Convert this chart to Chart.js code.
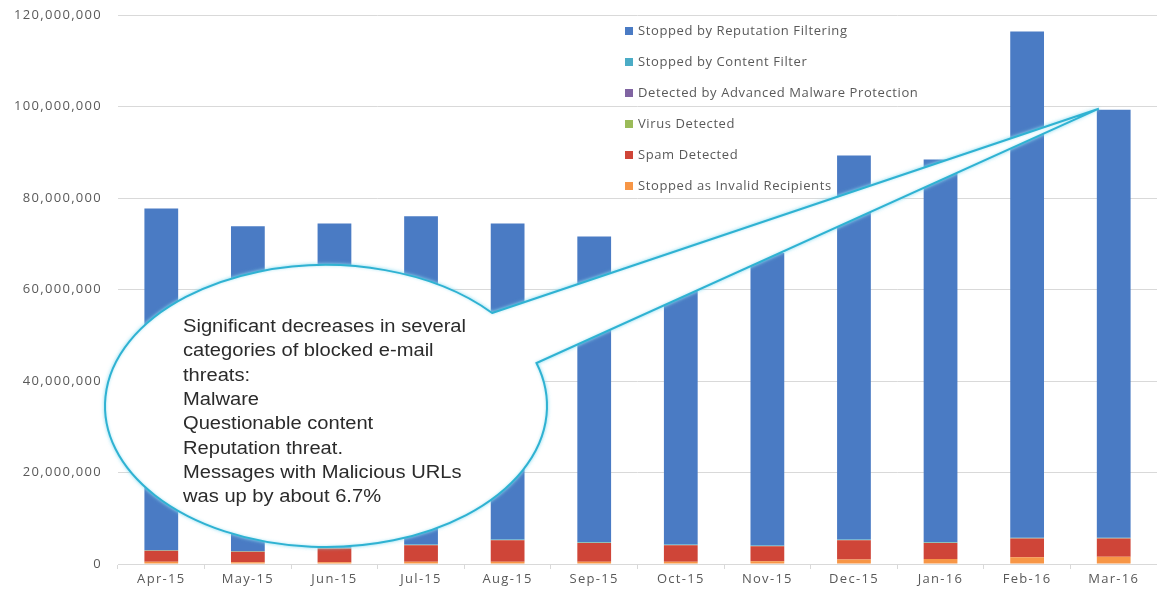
<!DOCTYPE html>
<html>
<head>
<meta charset="utf-8">
<script src="https://cdn.jsdelivr.net/npm/chart.js@4.4.1/dist/chart.umd.min.js"></script>
<style>
  html, body { margin: 0; padding: 0; background: #fff; }
  #wrap { width: 1157px; height: 598px; position: relative; }
</style>
</head>
<body>
<div id="wrap"><canvas id="threats"></canvas></div>
<script>
const months = ["Apr-15", "May-15", "Jun-15", "Jul-15", "Aug-15", "Sep-15", "Oct-15", "Nov-15", "Dec-15", "Jan-16", "Feb-16", "Mar-16"];

// blocked messages per month, stacked bottom to top
const invalidRecipients = [500000, 400000, 400000, 500000, 500000, 500000, 500000, 600000, 1000000, 1100000, 1500000, 1600000];
const spamDetected = [2400000, 2300000, 3000000, 3600000, 4700000, 4100000, 3600000, 3300000, 4200000, 3500000, 4100000, 4000000];
const virusDetected = [30000, 30000, 30000, 30000, 30000, 30000, 30000, 30000, 30000, 30000, 30000, 30000];
const malwareProtection = [10000, 10000, 10000, 10000, 10000, 10000, 10000, 10000, 10000, 10000, 10000, 10000];
const contentFilter = [120000, 120000, 120000, 120000, 120000, 120000, 120000, 120000, 120000, 120000, 120000, 120000];
const reputationFiltering = [74640000, 70940000, 70840000, 71740000, 69040000, 66840000, 62540000, 63940000, 83940000, 83640000, 110640000, 93540000];

const yTicks = [0, 20000000, 40000000, 60000000, 80000000, 100000000, 120000000];

const calloutLines = [
  "Significant decreases in several",
  "categories of blocked e-mail",
  "threats:",
  "Malware",
  "Questionable content",
  "Reputation threat.",
  "Messages with Malicious URLs",
  "was up by about 6.7%",
];

const GRID = "#d9d9d9";
const TEXT = "#595959";
const FONT = "'Open Sans', 'DejaVu Sans', sans-serif";

const series = [
  { label: "Stopped as Invalid Recipients", data: invalidRecipients, color: "#f79646" },
  { label: "Spam Detected", data: spamDetected, color: "#cf4538" },
  { label: "Virus Detected", data: virusDetected, color: "#9bbb59" },
  { label: "Detected by Advanced Malware Protection", data: malwareProtection, color: "#8064a2" },
  { label: "Stopped by Content Filter", data: contentFilter, color: "#4bacc6" },
  { label: "Stopped by Reputation Filtering", data: reputationFiltering, color: "#4a7bc4" },
];

// slightly wider lettering for the axis labels
const spacedText = {
  id: "spacedText",
  beforeDraw(chart) {
    chart.ctx.letterSpacing = "1.3px";
  },
};

// legend sits inside the plot, top-most entry is the top of the stack
const insideLegend = {
  id: "insideLegend",
  afterDatasetsDraw(chart) {
    const ctx = chart.ctx;
    const left = 625;
    const top = 31;
    const row = 31;
    ctx.save();
    ctx.letterSpacing = "0.6px";
    ctx.font = "13px " + FONT;
    ctx.textBaseline = "middle";
    ctx.textAlign = "left";
    [...chart.data.datasets].reverse().forEach((ds, i) => {
      const y = top + i * row;
      ctx.fillStyle = ds.backgroundColor;
      ctx.fillRect(left, y - 4, 8, 8);
      ctx.fillStyle = TEXT;
      ctx.fillText(ds.label, left + 13, y);
    });
    ctx.restore();
  },
};

// speech bubble pointing at the top of the last month's bar
const callout = {
  id: "callout",
  afterDraw(chart) {
    const ctx = chart.ctx;
    const x = chart.scales.x;
    const y = chart.scales.y;
    const last = months.length - 1;
    const lastTotal = series.reduce((sum, s) => sum + s.data[last], 0);
    const bar = chart.getDatasetMeta(series.length - 1).data[last];
    const tipX = x.getPixelForValue(last) - bar.width / 2 + 2;
    const tipY = y.getPixelForValue(lastTotal) - 1;

    const cx = 326, cy = 406, rx = 221, ry = 141;
    const a1 = -0.72, a2 = -0.31;

    ctx.save();
    ctx.letterSpacing = "0px";
    ctx.beginPath();
    ctx.moveTo(cx + rx * Math.cos(a1), cy + ry * Math.sin(a1));
    ctx.lineTo(tipX, tipY);
    ctx.lineTo(cx + rx * Math.cos(a2), cy + ry * Math.sin(a2));
    ctx.ellipse(cx, cy, rx, ry, 0, a2, a1 + Math.PI * 2);
    ctx.closePath();
    ctx.fillStyle = "#ffffff";
    ctx.shadowColor = "rgba(140, 220, 240, 0.8)";
    ctx.shadowBlur = 5;
    ctx.fill();
    ctx.shadowBlur = 3;
    ctx.strokeStyle = "#2fb2d2";
    ctx.lineWidth = 2;
    ctx.stroke();
    ctx.shadowColor = "transparent";

    ctx.fillStyle = "#2b2b2b";
    ctx.font = "17.5px 'Liberation Sans', Arial, sans-serif";
    ctx.textAlign = "left";
    ctx.textBaseline = "alphabetic";
    calloutLines.forEach((line, i) => {
      ctx.save();
      ctx.translate(183, 332 + i * 24.3);
      ctx.scale(1.15, 1);
      ctx.fillText(line, 0, 0);
      ctx.restore();
    });
    ctx.restore();
  },
};

new Chart(document.getElementById("threats"), {
  type: "bar",
  data: {
    labels: months,
    datasets: series.map((s) => ({
      label: s.label,
      data: s.data,
      backgroundColor: s.color,
      borderWidth: 0,
      barPercentage: 0.39,
      categoryPercentage: 1,
    })),
  },
  options: {
    responsive: true,
    maintainAspectRatio: false,
    animation: false,
    layout: { padding: { top: 15, right: 0, bottom: 0, left: 0 } },
    plugins: {
      legend: { display: false },
      tooltip: { enabled: false },
    },
    scales: {
      x: {
        stacked: true,
        afterFit: (scale) => {
          scale.height = 34;
          scale.paddingLeft = 0;
          scale.paddingRight = 0;
        },
        grid: { color: GRID, drawOnChartArea: false, tickLength: 5, offset: true },
        border: { color: GRID },
        ticks: { color: TEXT, font: { family: FONT, size: 13 }, padding: 2, maxRotation: 0 },
      },
      y: {
        stacked: true,
        min: 0,
        max: 120000000,
        afterFit: (scale) => {
          scale.width = 118;
          scale.paddingTop = 0;
          scale.paddingBottom = 0;
        },
        afterBuildTicks: (scale) => { scale.ticks = yTicks.map((value) => ({ value })); },
        grid: { color: GRID, drawTicks: false },
        border: { display: false },
        ticks: {
          color: TEXT,
          font: { family: FONT, size: 13 },
          padding: 16,
          callback: (value) => value.toLocaleString("en-US"),
        },
      },
    },
  },
  plugins: [spacedText, insideLegend, callout],
});
</script>
</body>
</html>
